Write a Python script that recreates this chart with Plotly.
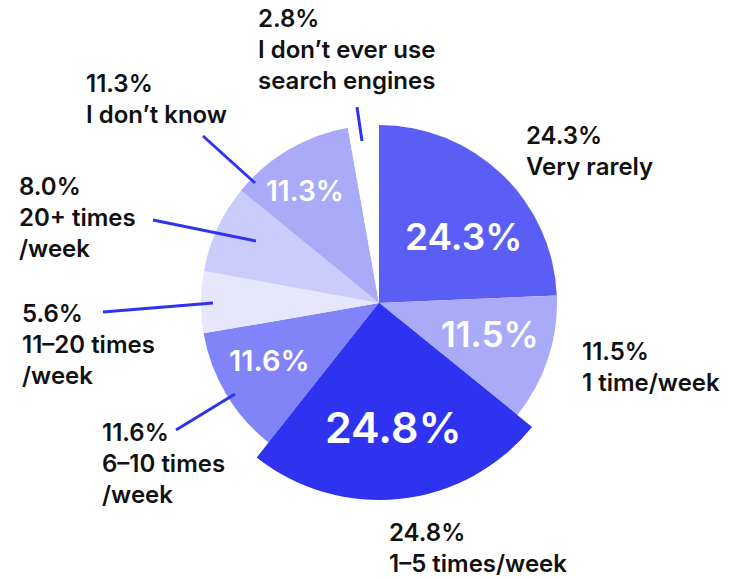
import math
import plotly.graph_objects as go

# Survey answers, clockwise from 12 o'clock
categories = [
    "Very rarely",
    "1 time/week",
    "1-5 times/week",
    "6-10 times/week",
    "11-20 times/week",
    "20+ times/week",
    "I don\u2019t know",
    "I don\u2019t ever use search engines",
]
shares = [24.3, 11.5, 24.8, 11.6, 5.6, 8.0, 11.3, 2.8]

# Multi-line captions printed next to the pie
captions = [
    "Very rarely",
    "1 time/week",
    "1\u20135 times/week",
    "6\u201310 times<br>/week",
    "11\u201320 times<br>/week",
    "20+ times<br>/week",
    "I don\u2019t know",
    "I don\u2019t ever use<br>search engines",
]

colors = ["#5B5EF5", "#A9ABF9", "#2F33EF", "#8184F8",
          "#E6E7FD", "#CBCCFB", "#A9ABF9", "#FFFFFF"]

W, H = 748, 579
CX, CY = 379, 303          # pie centre, px
R_MAIN, R_BIG = 178, 197   # radius of the pie / of the highlighted slice
HIGHLIGHT = 2              # "1-5 times/week" drawn larger

# in-slice percentage labels: font size, radial distance (px), angular nudge (deg); 0 size = no label
inside_sizes = [37, 35, 43, 29, 0, 0, 28, 0]
inside_radius = [108, 115, 125, 124, 0, 0, 134, 0]
inside_nudge = [8, -2.5, -0.5, 3, 0, 0, -3, 0]

FONT = "Inter"
CAPTION_SIZE = 24


def px(x, y):
    return x / W, 1 - y / H


def domain(r):
    return dict(x=[(CX - r) / W, (CX + r) / W],
                y=[1 - (CY + r) / H, 1 - (CY - r) / H])


def pct(v):
    return f"{v:.1f}%"


fig = go.Figure()

fig.add_trace(go.Pie(
    labels=categories, values=shares, sort=False, direction="clockwise", rotation=0,
    marker=dict(colors=colors, line=dict(width=0)),
    textinfo="none", domain=domain(R_MAIN), hoverinfo="skip", showlegend=False,
))

big_colors = [c if i == HIGHLIGHT else "rgba(0,0,0,0)" for i, c in enumerate(colors)]
fig.add_trace(go.Pie(
    labels=categories, values=shares, sort=False, direction="clockwise", rotation=0,
    marker=dict(colors=big_colors, line=dict(width=0)),
    textinfo="none", domain=domain(R_BIG), hoverinfo="skip", showlegend=False,
))

# Percentages inside the slices, placed along each slice's mid-angle
total = sum(shares)
start = 0.0
for v, size, rad, nudge in zip(shares, inside_sizes, inside_radius, inside_nudge):
    mid = (start + v / 2) / total * 360 + nudge
    start += v
    if not size:
        continue
    x = CX + rad * math.sin(math.radians(mid))
    y = CY - rad * math.cos(math.radians(mid))
    ax_, ay_ = px(x, y)
    fig.add_annotation(
        x=ax_, y=ay_, xref="paper", yref="paper", xanchor="center", yanchor="middle",
        text=pct(v), showarrow=False,
        font=dict(family=FONT, size=size, color="white", weight=600),
    )

# Outside caption positions (left edge, top) in px
caption_pos = [
    (524, 119),
    (580, 335),
    (387, 516),
    (100, 416),
    (20, 297),
    (17, 170),
    (84, 67),
    (256, 2),
]

for v, cap, (x, y) in zip(shares, captions, caption_pos):
    ax_, ay_ = px(x, y)
    fig.add_annotation(
        x=ax_, y=ay_, xref="paper", yref="paper", xanchor="left", yanchor="top",
        text=f"{pct(v)}<br>{cap}", showarrow=False, align="left",
        font=dict(family=FONT, size=CAPTION_SIZE, color="#111111", weight=600),
    )

# Leader lines from caption to slice, px
leaders = [
    ((176, 430), (235, 394)),
    ((103, 312), (213, 303)),
    ((153, 220), (256, 241)),
    ((203, 136), (255, 183)),
    ((357, 107), (362, 141)),
]
for (x0, y0), (x1, y1) in leaders:
    a0, b0 = px(x0, y0)
    a1, b1 = px(x1, y1)
    fig.add_shape(type="line", xref="paper", yref="paper", x0=a0, y0=b0, x1=a1, y1=b1,
                  line=dict(color="#2F33EF", width=3))

fig.update_layout(
    width=W, height=H, margin=dict(l=0, r=0, t=0, b=0),
    paper_bgcolor="white", plot_bgcolor="white",
)

fig.write_html("out.html")
